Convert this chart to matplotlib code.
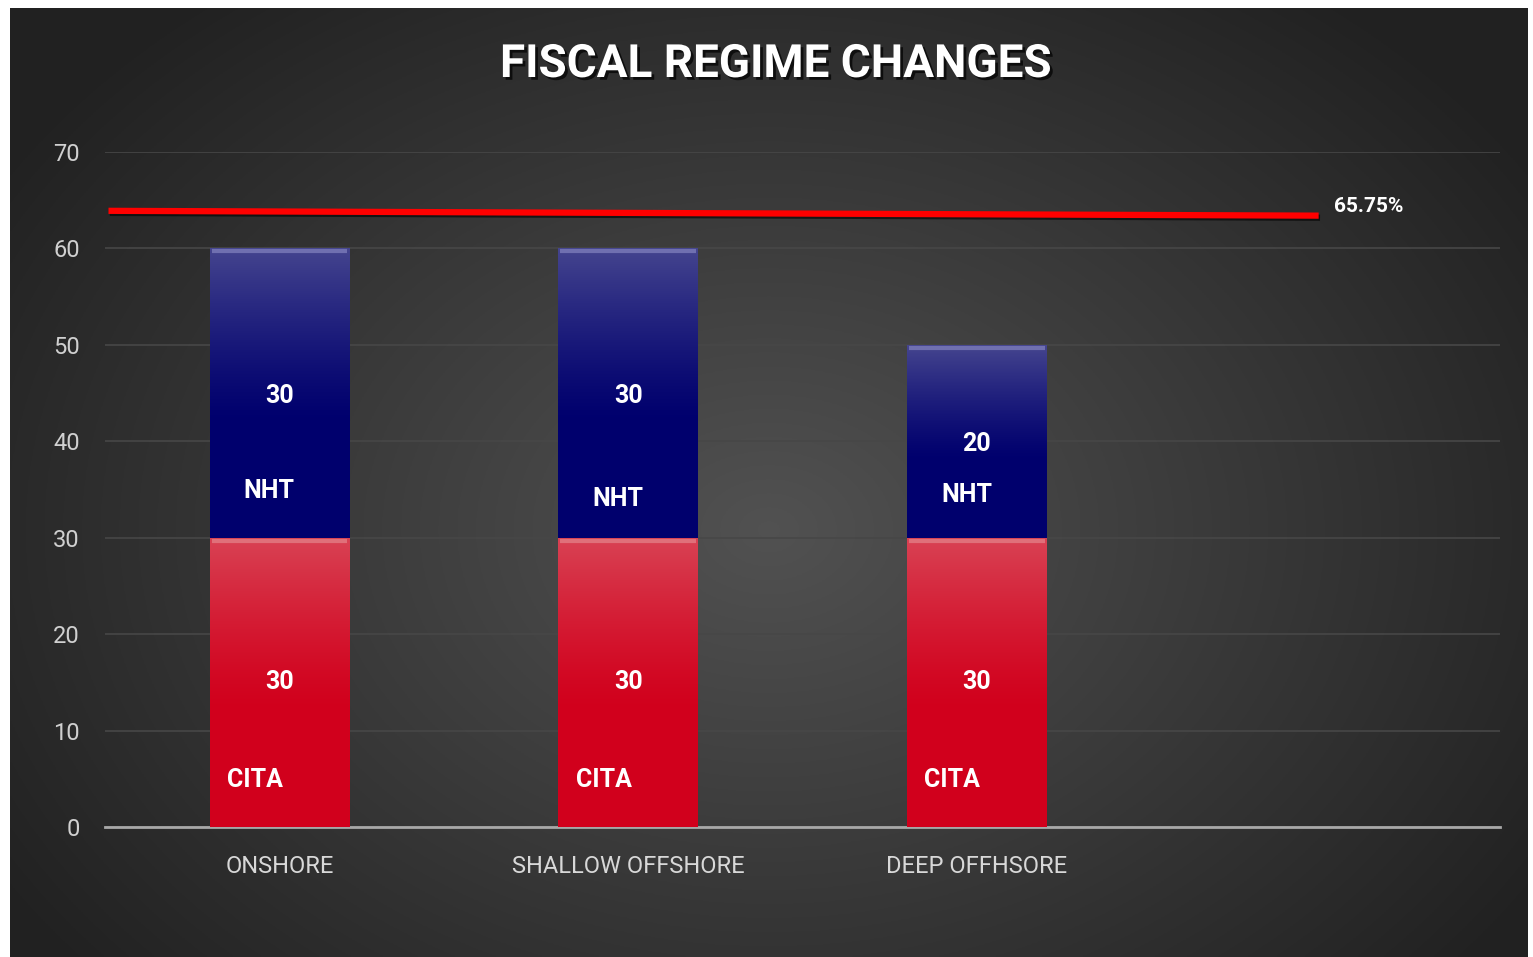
import numpy as np
import matplotlib
matplotlib.use("Agg")
import matplotlib.pyplot as plt
import matplotlib.patheffects as pe

# ---- data ----
categories = ["ONSHORE", "SHALLOW OFFSHORE", "DEEP OFFHSORE"]
cita_values = [30, 30, 30]
nht_values = [30, 30, 20]
series_labels = ["CITA", "NHT"]
ref_line_y = [63.9, 63.4]          # red reference line, left/right end
ref_line_x = [-0.49, 2.98]
ref_label = "65.75%"
yticks = [0, 10, 20, 30, 40, 50, 60, 70]
title = "FISCAL REGIME CHANGES"

W, H = 1533, 957
fig = plt.figure(figsize=(W / 100, H / 100), dpi=100)
fig.patch.set_facecolor("white")

# background radial gradient
bg = fig.add_axes([10 / W, 0, 1 - 10 / W - 5 / W, 1 - 8 / H])
yy, xx = np.mgrid[0:1:400j, 0:1:600j]
r = np.sqrt(((xx - 0.5) * 1.2) ** 2 + ((yy - 0.45) * 1.0) ** 2)
v = np.clip(1 - r / 0.72, 0, 1)
g = 0.13 + 0.19 * v
img = np.dstack([g, g, g])
bg.imshow(img, aspect="auto", extent=[0, 1, 0, 1], origin="lower")
bg.set_axis_off()

ax = fig.add_axes([105 / W, 130 / H, (1500 - 105) / W, (827 - 152) / H])
ax.set_facecolor("none")
ax.set_xlim(-0.5, 3.5)
ax.set_ylim(0, 70)

x = np.arange(len(categories))
width = 0.4

ax.set_yticks(yticks)
ax.yaxis.grid(True, color="#474747", linewidth=1.2)
ax.set_axisbelow(True)
for s in ["top", "right", "left"]:
    ax.spines[s].set_visible(False)
ax.spines["bottom"].set_color("#a8a8a8")
ax.spines["bottom"].set_linewidth(2)
ax.tick_params(axis="both", length=0, colors="#d0d0d0")
ax.tick_params(axis="y", pad=18)
ax.tick_params(axis="x", pad=20)
ax.set_xticks(x)
ax.set_xticklabels(categories, fontsize=17, color="#d8d8d8", family="Roboto",
                   fontweight="normal")
for lab in ax.get_yticklabels():
    lab.set_fontsize(17)
    lab.set_color("#d0d0d0")
    lab.set_family("Roboto")
    lab.set_fontweight("normal")

b1 = ax.bar(x, cita_values, width, color="#d0001a", zorder=3)
b2 = ax.bar(x, nht_values, width, bottom=cita_values, color="#00006e", zorder=3)


def grad(patch, top_col, bot_col, frac, hi):
    bb = patch.get_bbox()
    n = 200
    t = np.linspace(0, 1, n)[:, None]
    k = np.clip((t - (1 - frac)) / frac, 0, 1) ** 1.3
    top = np.array(top_col)
    bot = np.array(bot_col)
    c = bot + (top - bot) * k
    im = np.repeat(c[:, None, :], 2, axis=1)
    ai = ax.imshow(im, extent=[bb.x0, bb.x1, bb.y0, bb.y1], origin="lower",
                   aspect="auto", zorder=3.5)
    ai.set_clip_path(patch)
    ax.plot([bb.x0 + 0.006, bb.x1 - 0.006], [bb.y1 - 0.3, bb.y1 - 0.3],
            color=hi, lw=3, zorder=3.6, solid_capstyle="butt")


for p in b1:
    grad(p, (0.85, 0.26, 0.33), (0.82, 0.0, 0.11), 0.6, "#e0707a")
for p in b2:
    grad(p, (0.27, 0.27, 0.56), (0.0, 0.0, 0.43), 0.6, "#7070b0")

ax.set_ylim(0, 70)
ax.set_xlim(-0.5, 3.5)

txt_kw = dict(color="white", fontweight="bold", fontsize=18, ha="center",
              va="center", zorder=5, family="Roboto")
nht_label_y = [34.8, 34.0, 34.4]
for i in range(len(categories)):
    ax.text(x[i], cita_values[i] / 2, str(cita_values[i]), **txt_kw)
    ax.text(x[i], cita_values[i] + nht_values[i] / 2 - 0.3, str(nht_values[i]), **txt_kw)
    ax.text(x[i] - 0.07, 4.9, series_labels[0], **txt_kw)
    ax.text(x[i] - 0.03, nht_label_y[i], series_labels[1], **txt_kw)

ax.plot(ref_line_x, ref_line_y, color="#ff0000", lw=4.5, zorder=4,
        solid_capstyle="butt",
        path_effects=[pe.SimpleLineShadow(offset=(1, -1.5), shadow_color="black", alpha=0.6), pe.Normal()])
ax.text(ref_line_x[1] + 0.045, 64.3, ref_label, color="white", fontweight="bold",
        fontsize=15, ha="left", va="center", zorder=5, family="Roboto")

fig.text(776 / W, 1 - 64 / H, title, color="white", fontweight="bold",
         fontsize=33, ha="center", va="center", family="Roboto",
         path_effects=[pe.withSimplePatchShadow(offset=(2, -2), shadow_rgbFace="black", alpha=0.7)])

fig.savefig("out.png", dpi=100, facecolor=fig.get_facecolor())
